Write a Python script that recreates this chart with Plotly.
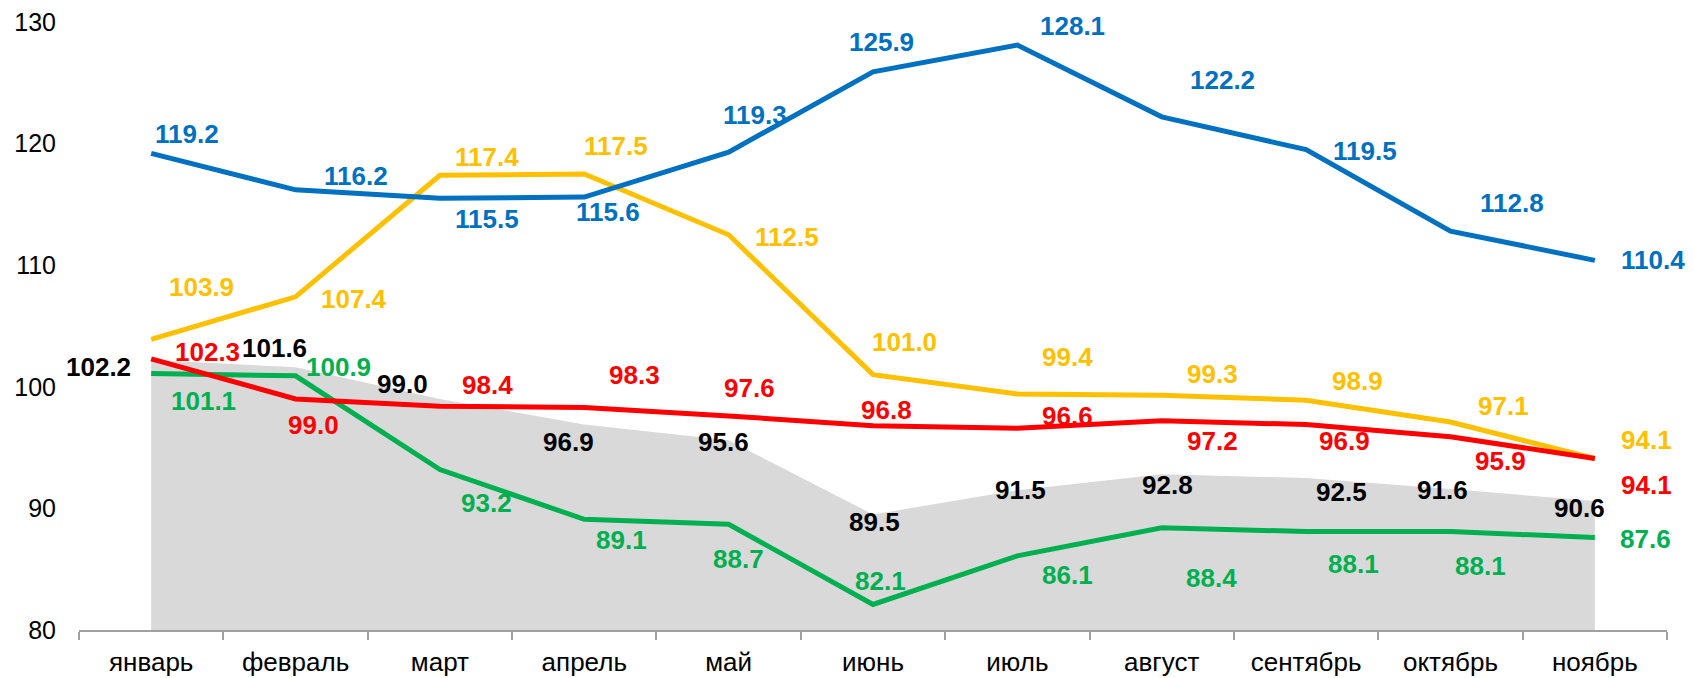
import plotly.graph_objects as go

months = ["январь", "февраль", "март", "апрель", "май", "июнь", "июль",
          "август", "сентябрь", "октябрь", "ноябрь"]

blue = [119.2, 116.2, 115.5, 115.6, 119.3, 125.9, 128.1, 122.2, 119.5, 112.8, 110.4]
yellow = [103.9, 107.4, 117.4, 117.5, 112.5, 101.0, 99.4, 99.3, 98.9, 97.1, 94.1]
red = [102.3, 99.0, 98.4, 98.3, 97.6, 96.8, 96.6, 97.2, 96.9, 95.9, 94.1]
green = [101.1, 100.9, 93.2, 89.1, 88.7, 82.1, 86.1, 88.4, 88.1, 88.1, 87.6]
gray = [102.2, 101.6, 99.0, 96.9, 95.6, 89.5, 91.5, 92.8, 92.5, 91.6, 90.6]

y_ticks = [80, 90, 100, 110, 120, 130]

# label offsets in pixels (dx right, dy down) relative to each point
blue_off = [(36, -19), (60, -14), (47, 21), (24, 15), (26, -37), (8, -30),
            (55, -19), (61, -37), (59, 1), (62, -28), (58, 0)]
yellow_off = [(50, -52), (58, 2), (47, -18), (32, -28), (58, 2), (31, -33),
              (50, -37), (51, -21), (51, -19), (53, -16), (52, -19)]
red_off = [(56, -7), (18, 26), (48, -21), (50, -32), (21, -28), (13, -16),
           (50, -12), (51, 20), (38, 16), (50, 24), (52, 26)]
green_off = [(52, 28), (43, -9), (47, 34), (37, 21), (10, 35), (7, -23),
             (50, 19), (50, 50), (47, 32), (30, 34), (51, 1)]
gray_off = [(-53, 7), (-21, -19), (-37, -15), (-16, 17), (-5, 2), (1, 8),
            (3, 0), (6, 11), (35, 14), (-8, 1), (-15, 7)]

C_BLUE = "#0070C0"
C_YELLOW = "#FFC000"
C_RED = "#FF0000"
C_GREEN = "#00B050"
C_GRAY = "#D9D9D9"
FONT = "Arial, Liberation Sans, sans-serif"

fig = go.Figure()

fig.add_trace(go.Scatter(x=months, y=gray, mode="lines", fill="tozeroy",
                         fillcolor=C_GRAY, line=dict(width=0, color=C_GRAY),
                         hoverinfo="skip", showlegend=False))
for vals, col in [(green, C_GREEN), (yellow, C_YELLOW), (red, C_RED), (blue, C_BLUE)]:
    fig.add_trace(go.Scatter(x=months, y=vals, mode="lines",
                             line=dict(width=5, color=col),
                             showlegend=False))

annotations = []
for vals, offs, col in [(gray, gray_off, "#000000"), (green, green_off, C_GREEN),
                        (yellow, yellow_off, C_YELLOW), (red, red_off, C_RED),
                        (blue, blue_off, C_BLUE)]:
    for m, v, (dx, dy) in zip(months, vals, offs):
        annotations.append(dict(
            x=m, y=v, xref="x", yref="y", text=f"<b>{v:.1f}</b>",
            showarrow=False, xanchor="center", yanchor="middle",
            xshift=dx, yshift=-dy,
            font=dict(family=FONT, size=26, color=col)))

fig.update_layout(
    width=1693, height=678,
    margin=dict(l=79, r=26, t=22, b=48, autoexpand=False),
    paper_bgcolor="white", plot_bgcolor="white",
    annotations=annotations,
    font=dict(family=FONT, color="#000000"),
)
fig.update_xaxes(type="category", range=[-0.5, 10.5], showline=True,
                 automargin=False,
                 linecolor="#A0A0A0", linewidth=1.5, ticks="outside",
                 tickson="boundaries", ticklen=8, tickcolor="#A0A0A0",
                 tickwidth=1.5, showgrid=False, ticklabelstandoff=8,
                 tickfont=dict(size=26, color="#000000"))
fig.update_yaxes(range=[80, 130], tickvals=y_ticks, showgrid=False,
                 automargin=False,
                 zeroline=False, showline=False, ticks="",
                 ticklabelstandoff=22,
                 tickfont=dict(size=25, color="#000000"))

fig.write_html("out.html",
               config={"displayModeBar": False},
               post_script="document.body.style.margin='0';"
                           "document.body.style.overflow='hidden';")
